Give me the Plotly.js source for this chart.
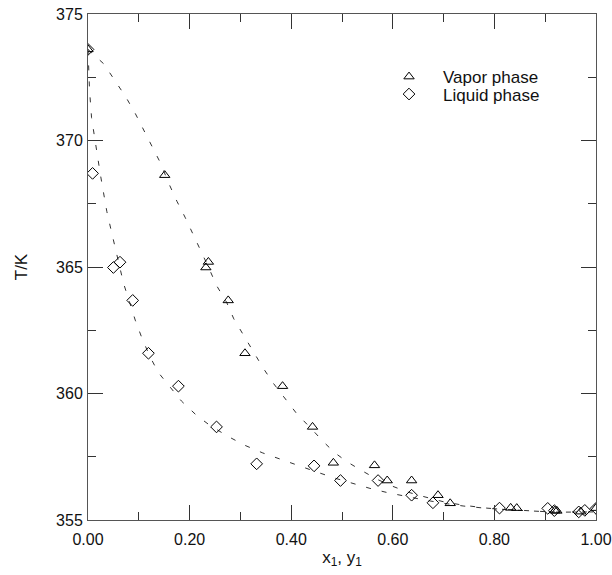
<!DOCTYPE html>
<html>
<head>
<meta charset="utf-8">
<script src="https://cdn.plot.ly/plotly-3.0.1.min.js"></script>
<style>html,body{margin:0;padding:0;background:#fff;}#plot{width:612px;height:575px;}</style>
</head>
<body>
<div id="plot"></div>
<script>
// Experimental points
const vaporX = [0, 0.151, 0.232, 0.237, 0.276, 0.309, 0.383, 0.442, 0.483, 0.564, 0.589, 0.637, 0.689, 0.713, 0.832, 0.844, 0.919, 0.923, 0.970, 1.0];
const vaporT = [373.6, 368.63, 364.98, 365.2, 363.68, 361.59, 360.29, 358.68, 357.26, 357.16, 356.56, 356.56, 355.98, 355.66, 355.48, 355.47, 355.37, 355.36, 355.33, 355.47];
const liquidX = [0, 0.009, 0.050, 0.063, 0.088, 0.119, 0.178, 0.253, 0.332, 0.445, 0.497, 0.571, 0.637, 0.679, 0.810, 0.905, 0.918, 0.966, 0.978, 1.0];
const liquidT = [373.6, 368.7, 364.98, 365.19, 363.68, 361.59, 360.29, 358.68, 357.22, 357.14, 356.56, 356.56, 355.98, 355.68, 355.47, 355.46, 355.37, 355.32, 355.38, 355.46];

// Correlated (dashed) curves
const vaporCurveX = [0, 0.031, 0.053, 0.075, 0.093, 0.110, 0.127, 0.143, 0.158, 0.175, 0.191, 0.207, 0.222, 0.237, 0.253, 0.273, 0.287, 0.306, 0.325, 0.345, 0.365, 0.388, 0.411, 0.440, 0.463, 0.485, 0.510, 0.539, 0.570, 0.600, 0.630, 0.660, 0.700, 0.740, 0.785, 0.830, 0.862, 0.900, 0.930, 0.965, 1.0];
const vaporCurveT = [373.6, 373.03, 372.37, 371.7, 371.07, 370.4, 369.7, 369.1, 368.35, 367.6, 366.97, 366.3, 365.65, 365.0, 364.27, 363.6, 362.95, 362.3, 361.7, 361.0, 360.4, 359.8, 359.2, 358.6, 358.1, 357.67, 357.3, 356.95, 356.6, 356.33, 356.1, 355.93, 355.72, 355.58, 355.47, 355.4, 355.36, 355.33, 355.31, 355.31, 355.32];
const liquidCurveX = [0, 0.003, 0.007, 0.012, 0.018, 0.024, 0.030, 0.037, 0.045, 0.053, 0.062, 0.070, 0.082, 0.093, 0.106, 0.121, 0.138, 0.160, 0.184, 0.214, 0.240, 0.276, 0.309, 0.344, 0.378, 0.414, 0.450, 0.485, 0.520, 0.555, 0.590, 0.624, 0.660, 0.700, 0.740, 0.785, 0.830, 0.862, 0.900, 0.930, 0.965, 1.0];
const liquidCurveT = [373.6, 372.0, 370.9, 370.2, 369.4, 368.7, 368.0, 367.2, 366.5, 365.8, 365.0, 364.35, 363.6, 362.9, 362.2, 361.5, 360.84, 360.3, 359.7, 359.13, 358.74, 358.3, 357.95, 357.65, 357.4, 357.15, 356.9, 356.66, 356.45, 356.25, 356.08, 355.94, 355.8, 355.66, 355.55, 355.46, 355.4, 355.36, 355.33, 355.31, 355.31, 355.32];

const xTickVals = [0, 0.2, 0.4, 0.6, 0.8, 1.0];
const xTickText = ["0.00", "0.20", "0.40", "0.60", "0.80", "1.00"];
const yTickVals = [355, 360, 365, 370, 375];
const yTickText = ["355", "360", "365", "370", "375"];

const FONT = "Liberation Sans, Arial, sans-serif";
const dashLine = {color: "#333", width: 1, dash: "5px,11px"};

const traces = [
  {x: vaporCurveX, y: vaporCurveT, mode: "lines", line: dashLine, showlegend: false, hoverinfo: "skip"},
  {x: liquidCurveX, y: liquidCurveT, mode: "lines", line: dashLine, showlegend: false, hoverinfo: "skip"},
  {x: vaporX, y: vaporT, mode: "markers", name: "Vapor phase", legend: "legend",
   marker: {symbol: "triangle-up-open", size: 9, color: "#000", line: {width: 1, color: "#000"}}},
  {x: liquidX, y: liquidT, mode: "markers", name: "Liquid phase", legend: "legend2",
   marker: {symbol: "diamond-open", size: 9, color: "#000", line: {width: 1, color: "#000"}}}
];

const axisCommon = {
  showline: true, linecolor: "#555", linewidth: 1, mirror: "ticks",
  ticks: "inside", ticklen: 15, tickcolor: "#333", tickwidth: 1,
  showgrid: false, zeroline: false,
  tickfont: {family: FONT, size: 16, color: "#111"}
};

const legendCommon = {xanchor: "left", yanchor: "top", bgcolor: "rgba(0,0,0,0)",
  itemwidth: 58, font: {family: FONT, size: 17, color: "#111"}};

const layout = {
  width: 612, height: 575,
  margin: {l: 88, r: 16, t: 14, b: 55},
  paper_bgcolor: "#fff", plot_bgcolor: "#fff",
  font: {family: FONT, color: "#111"},
  xaxis: Object.assign({}, axisCommon, {
    range: [0, 1], tickvals: xTickVals, ticktext: xTickText, ticklabelstandoff: 5,
    minor: {dtick: 0.1, ticks: "inside", ticklen: 8, tickcolor: "#333", showgrid: false},
    title: {text: "x<sub>1</sub>, y<sub>1</sub>", font: {family: FONT, size: 17, color: "#111"}, standoff: 3}
  }),
  yaxis: Object.assign({}, axisCommon, {
    range: [355, 375], tickvals: yTickVals, ticktext: yTickText, ticklabelstandoff: 1,
    minor: {dtick: 2.5, ticks: "inside", ticklen: 8, tickcolor: "#333", showgrid: false},
    title: {text: "T/K", font: {family: FONT, size: 17, color: "#111"}, standoff: 24}
  }),
  legend: Object.assign({}, legendCommon, {x: 0.565, y: 0.911}),
  legend2: Object.assign({}, legendCommon, {x: 0.565, y: 0.8765}),
  showlegend: true
};

Plotly.newPlot("plot", traces, layout, {displayModeBar: false, staticPlot: true});
</script>
</body>
</html>
